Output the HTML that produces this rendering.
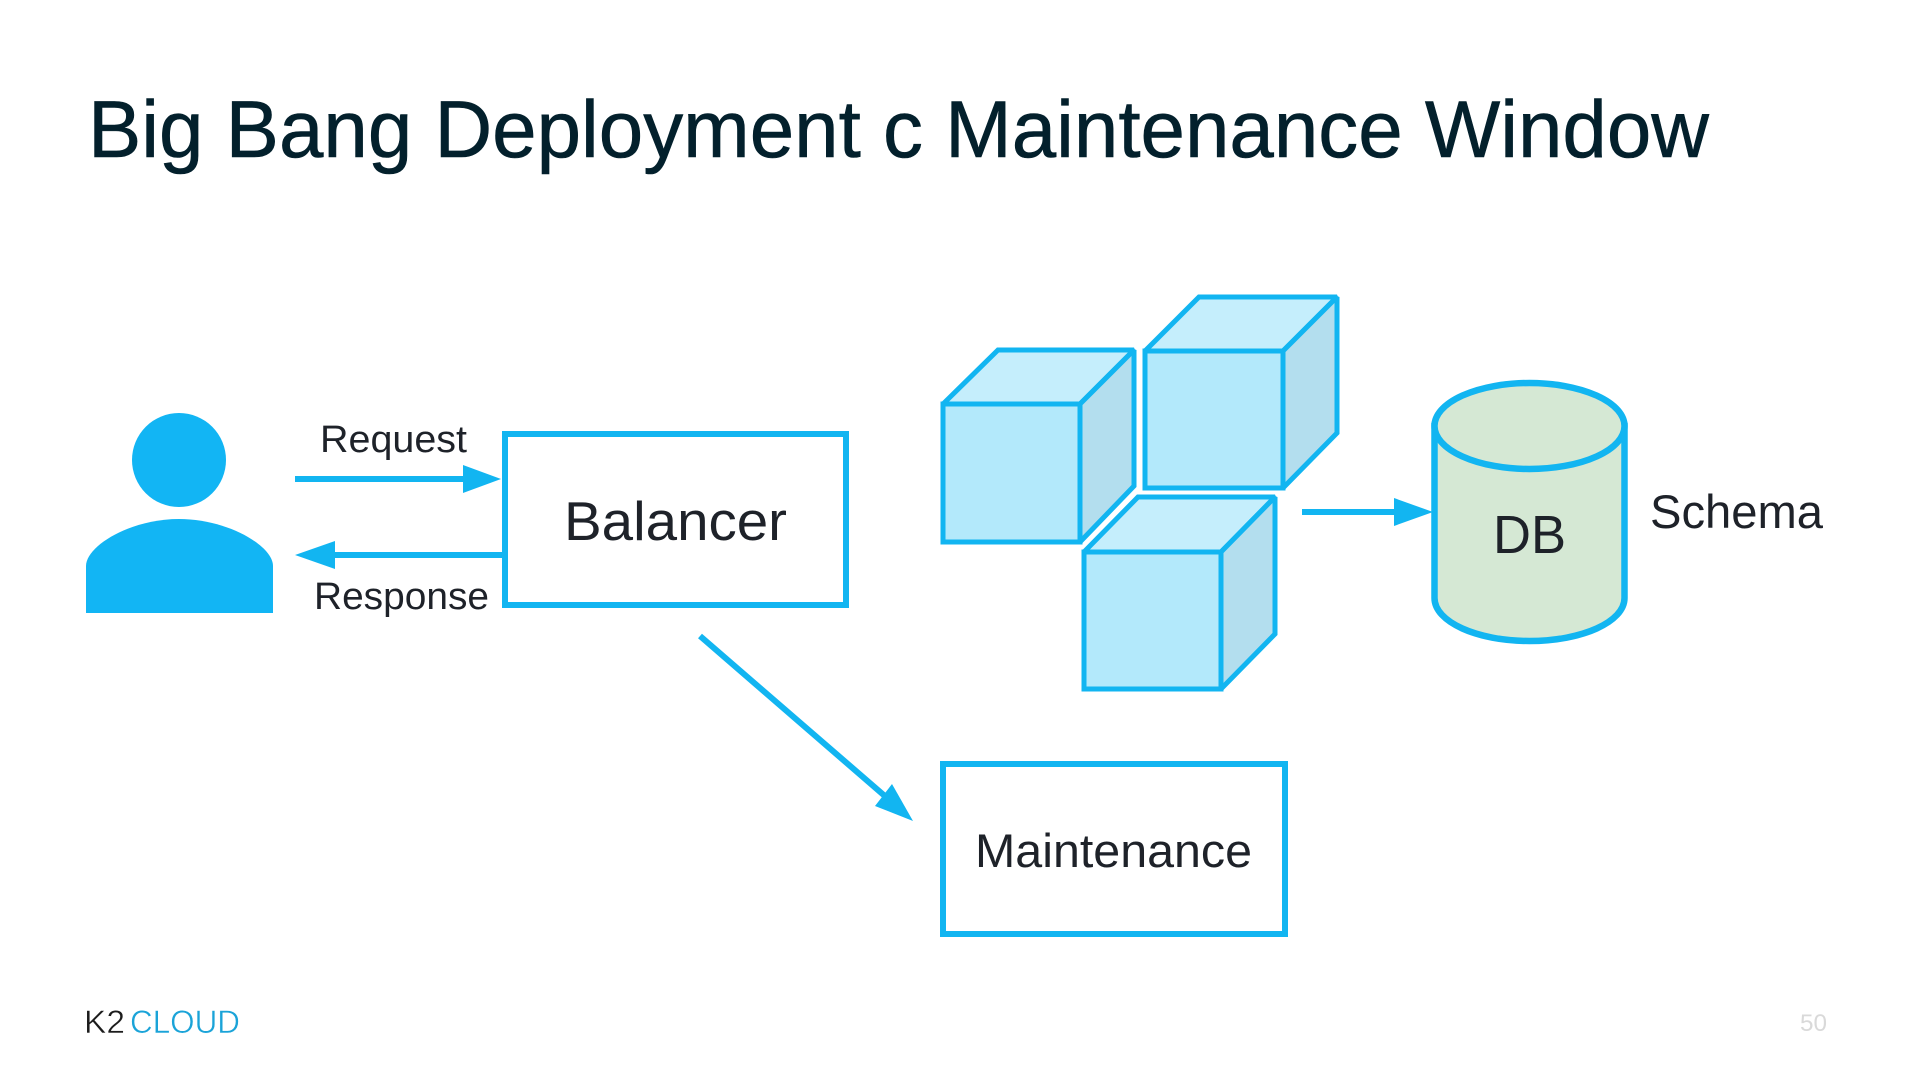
<!DOCTYPE html>
<html lang="en">
<head>
<meta charset="utf-8">
<title>Big Bang Deployment c Maintenance Window</title>
<style>
html,body{margin:0;padding:0;background:#fff;width:1920px;height:1080px;overflow:hidden}
svg{display:block}
text{font-family:"Liberation Sans",sans-serif;fill:#1e2229}
</style>
</head>
<body>
<svg width="1920" height="1080" viewBox="0 0 1920 1080" xmlns="http://www.w3.org/2000/svg">
<rect width="1920" height="1080" fill="#fff"/>
<text x="88" y="157" font-size="81" style="fill:#03202c;stroke:#03202c;stroke-width:0.6" textLength="1621" lengthAdjust="spacingAndGlyphs">Big Bang Deployment c Maintenance Window</text>

<!-- person -->
<ellipse cx="179" cy="460" rx="47" ry="47" fill="#12b5f4"/>
<path d="M86 613V566C86 546 130 519 179 519C228 519 273 546 273 566V613Z" fill="#12b5f4"/>

<!-- request / response -->
<rect x="295" y="476" width="172" height="6" fill="#12b5f1"/>
<polygon points="463,465 501,479 463,493" fill="#12b5f1"/>
<rect x="332" y="552" width="171" height="6" fill="#12b5f1"/>
<polygon points="335,541 295,555 335,569" fill="#12b5f1"/>
<text x="320" y="452" font-size="38" textLength="147" lengthAdjust="spacingAndGlyphs">Request</text>
<text x="314" y="609" font-size="38" textLength="175" lengthAdjust="spacingAndGlyphs">Response</text>

<!-- balancer -->
<rect x="505" y="434" width="341" height="171" fill="#fff" stroke="#12b5f1" stroke-width="6"/>
<text x="564" y="540" font-size="55" textLength="223" lengthAdjust="spacingAndGlyphs">Balancer</text>

<!-- cubes -->
<g stroke="#12b5f1" stroke-width="5" stroke-linejoin="miter" stroke-miterlimit="2">
  <g>
    <polygon points="943,404 998,350 1134,350 1080,404" fill="#c5eefc"/>
    <polygon points="1080,404 1134,350 1134,486 1080,542" fill="#b3deee"/>
    <rect x="943" y="404" width="137" height="138" fill="#b3e9fb"/>
  </g>
  <g>
    <polygon points="1145,351 1199,297 1337,297 1283,351" fill="#c5eefc"/>
    <polygon points="1283,351 1337,297 1337,433 1283,488" fill="#b3deee"/>
    <rect x="1145" y="351" width="138" height="137" fill="#b3e9fb"/>
  </g>
  <g>
    <polygon points="1084,552 1138,497 1275,497 1221,552" fill="#c5eefc"/>
    <polygon points="1221,552 1275,497 1275,634 1221,689" fill="#b3deee"/>
    <rect x="1084" y="552" width="137" height="137" fill="#b3e9fb"/>
  </g>
</g>

<!-- db arrow -->
<rect x="1302" y="509" width="95" height="6" fill="#12b5f1"/>
<polygon points="1394,498 1433,512 1394,526" fill="#12b5f1"/>

<!-- cylinder -->
<path d="M1434.500 426V598C1434.500 622 1477 641 1529.500 641C1582 641 1624.500 622 1624.500 598V426Z" fill="#d5e8d4" stroke="#12b5f1" stroke-width="6.500"/>
<ellipse cx="1529.500" cy="426" rx="95" ry="43" fill="#d5e8d4" stroke="#12b5f1" stroke-width="6.500"/>
<text x="1493" y="553" font-size="54" textLength="73" lengthAdjust="spacingAndGlyphs">DB</text>
<text x="1650" y="528" font-size="47" textLength="173" lengthAdjust="spacingAndGlyphs">Schema</text>

<!-- diagonal arrow -->
<line x1="700" y1="636" x2="886" y2="797" stroke="#12b5f1" stroke-width="6"/>
<polygon points="892,784 913,821 875,806" fill="#12b5f1"/>

<!-- maintenance -->
<rect x="943" y="764" width="342" height="170" fill="#fff" stroke="#12b5f1" stroke-width="6"/>
<text x="975" y="867" font-size="47" textLength="277" lengthAdjust="spacingAndGlyphs">Maintenance</text>

<!-- footer -->
<text x="84" y="1033" font-size="32" textLength="41" lengthAdjust="spacingAndGlyphs" style="fill:#1c1c1c;stroke:#fff;stroke-width:0.5;paint-order:fill stroke">K2</text>
<text x="130" y="1033" font-size="32" textLength="110" lengthAdjust="spacingAndGlyphs" style="fill:#1aa3d8;stroke:#fff;stroke-width:0.5;paint-order:fill stroke">CLOUD</text>
<text x="1800" y="1031" font-size="24" textLength="27" lengthAdjust="spacingAndGlyphs" style="fill:#d9d9d9">50</text>
</svg>
</body>
</html>
